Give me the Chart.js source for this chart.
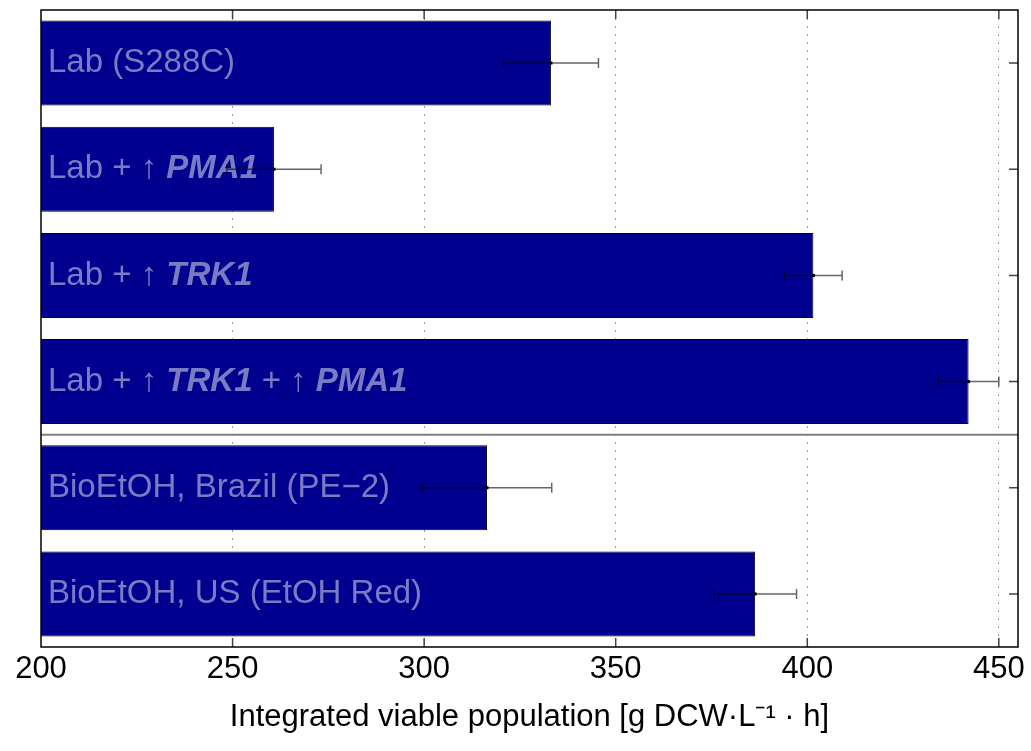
<!DOCTYPE html>
<html>
<head>
<meta charset="utf-8">
<script src="https://cdn.jsdelivr.net/npm/chart.js@4.4.0/dist/chart.umd.min.js"></script>
<style>
  html, body { margin: 0; padding: 0; background: #fff; }
</style>
</head>
<body>
<canvas id="chart" width="1031" height="751"></canvas>
<script>
// values
const strains = ['Lab (S288C)', 'Lab + ↑ PMA1', 'Lab + ↑ TRK1', 'Lab + ↑ TRK1 + ↑ PMA1', 'BioEtOH, Brazil (PE−2)', 'BioEtOH, US (EtOH Red)'];
const genes = ['PMA1', 'TRK1']; // shown bold italic
const viablePop = [333.1, 260.8, 401.6, 442.1, 316.4, 386.4];
const viablePopErr = [12.4, 12.3, 7.5, 7.9, 16.9, 10.8];
const xTicks = [200, 250, 300, 350, 400, 450];
const xMin = 200;
const xMax = 455;
const groupSplit = 4; // lab strains above, industrial strains below

const FONT = '"Liberation Sans", Arial, Helvetica, sans-serif';

const overlay = {
  id: 'overlay',
  afterDatasetsDraw(chart) {
    const { ctx, chartArea: a, scales: { x, y } } = chart;
    ctx.save();

    // strain names inside the bars
    ctx.textBaseline = 'middle';
    ctx.fillStyle = '#7b7bc4';
    const re = new RegExp('(' + genes.join('|') + ')');
    strains.forEach((s, i) => {
      const cy = y.getPixelForValue(i);
      let cx = a.left + 7;
      s.split(re).forEach(part => {
        if (!part) return;
        ctx.font = (genes.includes(part) ? 'italic bold ' : '') + '33px ' + FONT;
        ctx.fillText(part, cx, cy);
        cx += ctx.measureText(part).width;
      });
    });

    // error bars
    ctx.strokeStyle = 'rgba(0,0,0,0.6)';
    ctx.lineWidth = 1.5;
    viablePop.forEach((v, i) => {
      const cy = y.getPixelForValue(i);
      const x0 = x.getPixelForValue(v - viablePopErr[i]);
      const x1 = x.getPixelForValue(v + viablePopErr[i]);
      ctx.beginPath();
      ctx.moveTo(x0, cy); ctx.lineTo(x1, cy);
      ctx.moveTo(x0, cy - 5); ctx.lineTo(x0, cy + 5);
      ctx.moveTo(x1, cy - 5); ctx.lineTo(x1, cy + 5);
      ctx.stroke();
      ctx.fillStyle = '#000';
      ctx.fillRect(x.getPixelForValue(v) - 1.5, cy - 1.5, 3, 3);
    });

    // line between the two groups
    const sy = (y.getPixelForValue(groupSplit - 1) + y.getPixelForValue(groupSplit)) / 2;
    ctx.strokeStyle = '#808080';
    ctx.lineWidth = 2;
    ctx.beginPath();
    ctx.moveTo(a.left, sy); ctx.lineTo(a.right, sy);
    ctx.stroke();

    // inward tick marks
    ctx.lineWidth = 1.5;
    ctx.strokeStyle = '#444';
    ctx.beginPath();
    xTicks.forEach(t => {
      if (t === xMin) return;
      const px = x.getPixelForValue(t);
      ctx.moveTo(px, a.top); ctx.lineTo(px, a.top + 9);
      ctx.moveTo(px, a.bottom); ctx.lineTo(px, a.bottom - 9);
    });
    strains.forEach((s, i) => {
      const py = y.getPixelForValue(i);
      ctx.moveTo(a.right, py); ctx.lineTo(a.right - 9, py);
    });
    ctx.stroke();

    // frame
    ctx.strokeStyle = '#000';
    ctx.lineWidth = 1.5;
    ctx.strokeRect(a.left, a.top, a.right - a.left, a.bottom - a.top);
    ctx.restore();
  }
};

new Chart(document.getElementById('chart'), {
  type: 'bar',
  data: {
    labels: strains,
    datasets: [{
      data: viablePop,
      backgroundColor: '#00008f',
      borderColor: '#000',
      borderWidth: 1,
      borderSkipped: false,
      barPercentage: 0.8,
      categoryPercentage: 1
    }]
  },
  options: {
    indexAxis: 'y',
    responsive: false,
    animation: false,
    layout: { padding: { left: 41, right: 13, top: 10, bottom: 0 } },
    plugins: { legend: { display: false }, tooltip: { enabled: false } },
    scales: {
      x: {
        min: xMin,
        max: xMax,
        afterBuildTicks: s => { s.ticks = xTicks.map(v => ({ value: v })); },
        afterFit: s => { s.height = 104; },
        ticks: { color: '#000', padding: 4, font: { family: FONT, size: 31 } },
        grid: {
          drawTicks: false,
          color: c => (c.tick && c.tick.value === xMin ? 'rgba(0,0,0,0)' : '#9a9a9a'),
          lineWidth: 1
        },
        border: { display: false, dash: [2, 6] },
        title: {
          display: true,
          text: 'Integrated viable population [g DCW·L⁻¹ · h]',
          color: '#000',
          font: { family: FONT, size: 31 },
          padding: { top: 0, bottom: 15 }
        }
      },
      y: {
        afterFit: s => { s.width = 0; },
        ticks: { display: false },
        grid: { display: false },
        border: { display: false }
      }
    }
  },
  plugins: [overlay]
});
</script>
</body>
</html>
